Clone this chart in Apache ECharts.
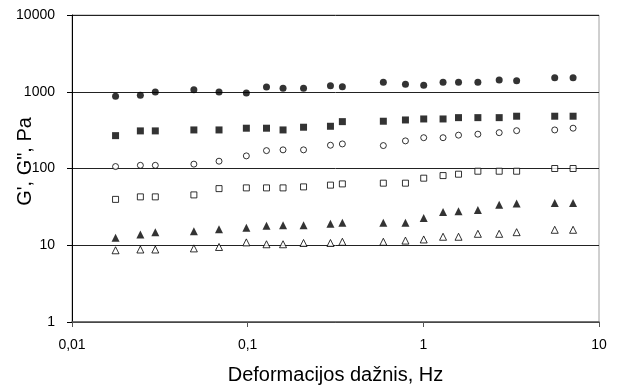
<!DOCTYPE html>
<html>
<head>
<meta charset="utf-8">
<script src="https://cdn.jsdelivr.net/npm/echarts@6/dist/echarts.min.js"></script>
<style>
html,body{margin:0;padding:0;background:#fff;}
#chart{width:623px;height:389px;}
</style>
</head>
<body>
<div id="chart"></div>
<script>
// Frequency (Hz)
var freq = [0.0177, 0.0245, 0.0298, 0.0494, 0.0687, 0.0983, 0.128, 0.159, 0.208, 0.296, 0.346,
            0.592, 0.791, 1.005, 1.295, 1.586, 2.044, 2.703, 3.397, 5.597, 7.12];
// Sample series (Pa)
var gFilledCircle = [874, 900, 994, 1064, 994, 965, 1155, 1110, 1110, 1200, 1165,
                     1330, 1252, 1215, 1330, 1330, 1330, 1424, 1395, 1526, 1526];
var gFilledSquare = [268, 309, 309, 318, 318, 335, 335, 318, 345, 355, 408,
                     413, 429, 442, 442, 460, 460, 460, 480, 480, 480];
var gOpenCircle = [106, 110, 110, 114, 124.5, 146, 171, 175, 175, 201, 209,
                   199, 229, 252, 252, 272, 280, 293, 311, 318, 335];
var gOpenSquare = [39.6, 42.7, 42.7, 45.3, 54.7, 55.9, 55.9, 55.9, 57.6, 60.7, 63,
                   64.4, 64.4, 74.8, 80.9, 84.3, 92.2, 92.2, 92.2, 100, 100];
var gFilledTriangle = [12.5, 13.8, 14.8, 15.2, 16.2, 16.9, 17.9, 18.2, 18.2, 19.0, 19.6,
                       19.6, 19.6, 22.7, 27.2, 27.7, 28.9, 33.6, 34.9, 35.6, 35.6];
var gOpenTriangle = [8.6, 8.8, 8.8, 9.1, 9.5, 10.9, 10.3, 10.3, 10.7, 10.7, 11.1,
                     11.1, 11.5, 11.9, 12.9, 12.9, 14.1, 14.1, 14.8, 15.9, 15.9];
var xTickLabels = {'-2': '0,01', '-1': '0,1', '0': '1', '1': '10'};
var yTickLabels = {'0': '1', '1': '10', '2': '100', '3': '1000', '4': '10000'};
var xTitle = 'Deformacijos dažnis, Hz';
var yTitle = 'G\', G", Pa';

function pairs(ys) { return freq.map(function (f, i) { return [f, ys[i]]; }); }

var FONT = 'Liberation Sans, Arial, sans-serif';
function mk(name, ys, symbol, size, filled) {
  return {
    name: name, type: 'scatter', data: pairs(ys), symbol: symbol, symbolSize: size,
    itemStyle: filled ? {color: '#000'} : {color: '#fff', borderColor: '#000', borderWidth: 1},
    z: 5
  };
}

var chart = echarts.init(document.getElementById('chart'), null, {renderer: 'canvas'});
chart.setOption({
  animation: false,
  backgroundColor: '#fff',
  grid: {left: 72, right: 24, top: 15, bottom: 67, show: true, borderColor: '#a0a0a0', borderWidth: 1,
         containLabel: false, outerBoundsMode: 'none'},
  xAxis: {
    type: 'log', logBase: 10, min: 0.01, max: 10,
    name: xTitle, nameLocation: 'middle', nameGap: 43, nameMoveOverlap: false,
    nameTextStyle: {fontFamily: FONT, fontSize: 20, color: '#000'},
    axisLine: {show: true, onZero: false, lineStyle: {color: '#555', width: 1.5}},
    axisTick: {show: true, inside: false, length: 5, lineStyle: {color: '#555'}},
    minorTick: {show: false},
    splitLine: {show: false},
    axisLabel: {
      fontFamily: FONT, fontSize: 14, color: '#000', margin: 16,
      formatter: function (v) {
        var k = Math.round(Math.log10(v));
        return xTickLabels[String(k)] || String(v);
      }
    }
  },
  yAxis: {
    type: 'log', logBase: 10, min: 1, max: 10000,
    name: yTitle, nameLocation: 'middle', nameGap: 37, nameMoveOverlap: false,
    nameTextStyle: {fontFamily: FONT, fontSize: 20, color: '#000', padding: [0, 0, 0, 14]},
    axisLine: {show: true, onZero: false, lineStyle: {color: '#000', width: 1}},
    axisTick: {show: true, inside: false, length: 5, lineStyle: {color: '#000'}},
    splitLine: {show: true, lineStyle: {color: '#222', width: 1}},
    axisLabel: {
      fontFamily: FONT, fontSize: 14, color: '#000', margin: 17,
      formatter: function (v) {
        var k = Math.round(Math.log10(v));
        return yTickLabels[String(k)] || String(v);
      }
    }
  },
  series: [
    mk("G' 1", gFilledCircle, 'circle', 7, true),
    mk("G' 2", gFilledSquare, 'rect', 7, true),
    mk('G" 1', gOpenCircle, 'circle', 6, false),
    mk('G" 2', gOpenSquare, 'rect', 6, false),
    mk("G' 3", gFilledTriangle, 'triangle', 8, true),
    mk('G" 3', gOpenTriangle, 'triangle', 7, false)
  ]
});
</script>
</body>
</html>
